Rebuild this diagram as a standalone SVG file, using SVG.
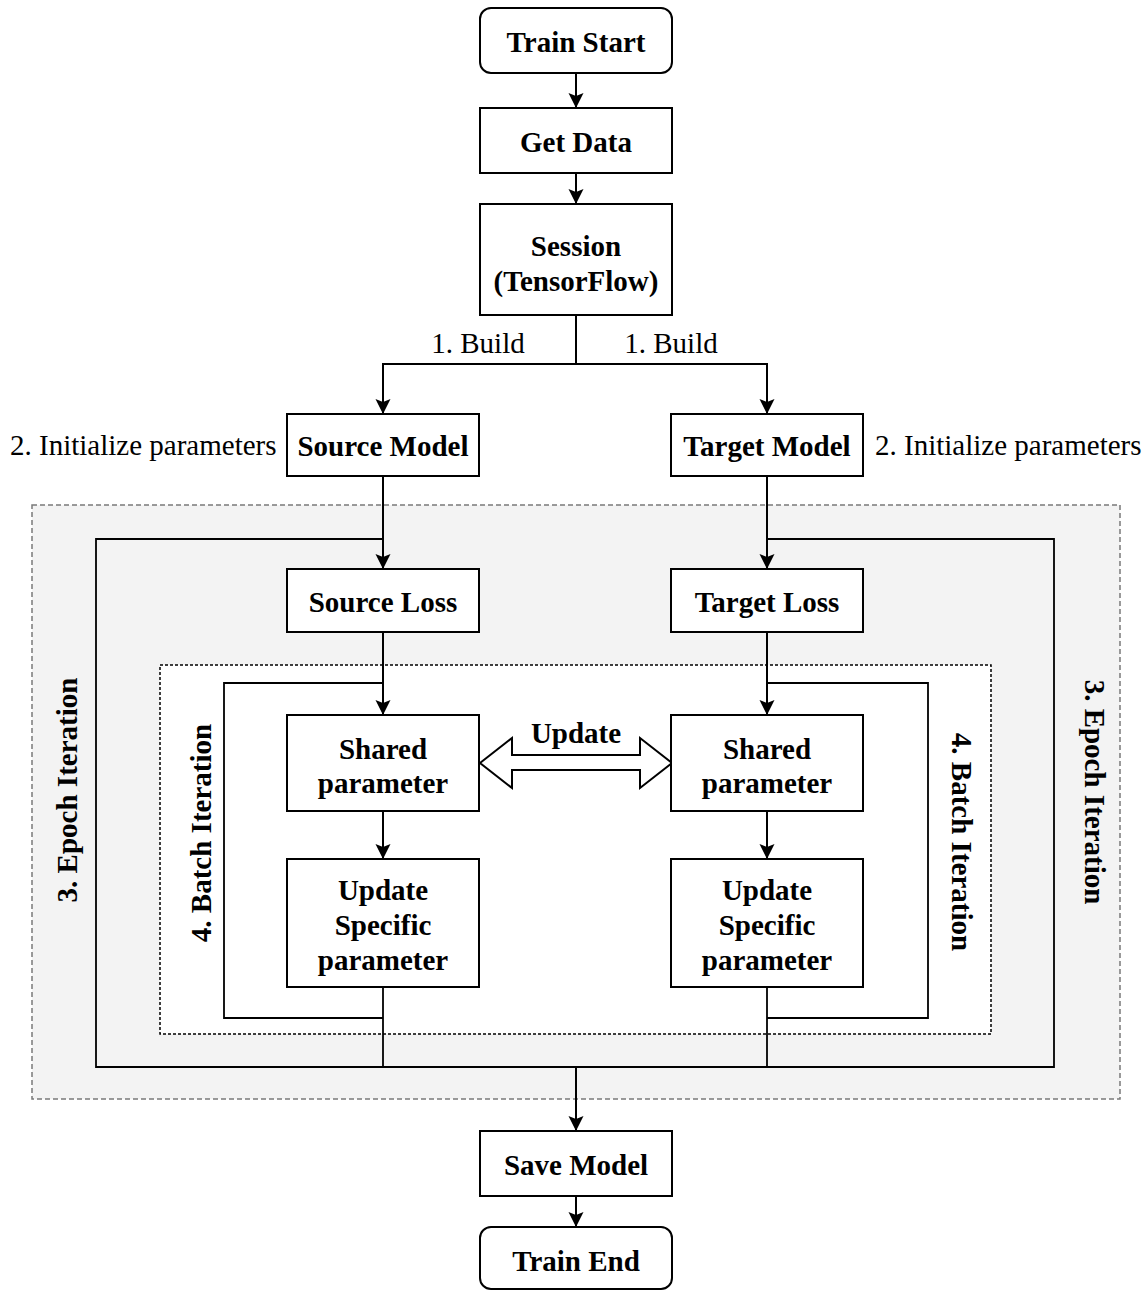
<svg xmlns="http://www.w3.org/2000/svg" width="1145" height="1291" viewBox="0 0 1145 1291">
  <defs>
    <marker id="arrow" markerUnits="userSpaceOnUse" markerWidth="18" markerHeight="18" refX="15" refY="7.5" orient="auto">
      <path d="M0,0 L15,7.5 L0,15 L3,7.5 Z" fill="#000"/>
    </marker>
    <style>
      .box { fill: #fff; stroke: #000; stroke-width: 2; }
      .wire { fill: none; stroke: #000; stroke-width: 2; }
      .loop { fill: none; stroke: #000; stroke-width: 1.8; }
      .b { font-family: "Liberation Serif", "Times New Roman", serif; font-weight: bold; font-size: 29px; text-anchor: middle; fill: #000; }
      .r { font-family: "Liberation Serif", "Times New Roman", serif; font-size: 29px; fill: #000; }
    </style>
  </defs>
  <rect width="1145" height="1291" fill="#fff"/>

  <!-- epoch region (grey, dashed) and batch region (white, dashed) -->
  <rect id="epoch-region" x="32" y="505" width="1088" height="594" fill="#f3f3f3" stroke="#7a7a7a" stroke-width="1.5" stroke-dasharray="5 3"/>
  <rect id="batch-region" x="160" y="665" width="831" height="369" fill="#fff" stroke="#000" stroke-width="1.5" stroke-dasharray="3 2"/>

  <!-- connectors -->
  <g id="connectors">
    <line class="wire" x1="576" y1="73" x2="576" y2="108" marker-end="url(#arrow)"/>
    <line class="wire" x1="576" y1="173" x2="576" y2="204" marker-end="url(#arrow)"/>
    <line class="wire" x1="576" y1="315" x2="576" y2="364"/>
    <path class="wire" d="M576,364 H383 V414" marker-end="url(#arrow)"/>
    <path class="wire" d="M576,364 H767 V414" marker-end="url(#arrow)"/>
    <line class="wire" x1="383" y1="476" x2="383" y2="569" marker-end="url(#arrow)"/>
    <line class="wire" x1="767" y1="476" x2="767" y2="569" marker-end="url(#arrow)"/>
    <!-- epoch loop -->
    <path class="loop" d="M383,539 H96 V1067 H1054 V539 H767"/>
    <line class="wire" x1="383" y1="632" x2="383" y2="715" marker-end="url(#arrow)"/>
    <line class="wire" x1="767" y1="632" x2="767" y2="715" marker-end="url(#arrow)"/>
    <!-- batch loops -->
    <path class="loop" d="M383,683 H224 V1018 H383"/>
    <path class="loop" d="M767,683 H928 V1018 H767"/>
    <line class="wire" x1="383" y1="811" x2="383" y2="859" marker-end="url(#arrow)"/>
    <line class="wire" x1="767" y1="811" x2="767" y2="859" marker-end="url(#arrow)"/>
    <line class="loop" x1="383" y1="987" x2="383" y2="1067"/>
    <line class="loop" x1="767" y1="987" x2="767" y2="1067"/>
    <line class="wire" x1="576" y1="1067" x2="576" y2="1131" marker-end="url(#arrow)"/>
    <line class="wire" x1="576" y1="1196" x2="576" y2="1227" marker-end="url(#arrow)"/>
    <!-- shared-parameter exchange -->
    <polygon id="update-arrow" points="480,763 512,738 512,755 640,755 640,738 672,763 640,788 640,770 512,770 512,788" fill="#fff" stroke="#000" stroke-width="2" stroke-linejoin="miter"/>
    <text class="b" x="576" y="743">Update</text>
  </g>

  <!-- edge labels -->
  <text class="r" x="478" y="353" text-anchor="middle">1. Build</text>
  <text class="r" x="671" y="353" text-anchor="middle">1. Build</text>
  <text class="r" x="10" y="455">2. Initialize parameters</text>
  <text class="r" x="875" y="455">2. Initialize parameters</text>

  <!-- loop labels -->
  <text class="b" transform="translate(77,790) rotate(-90)">3. Epoch Iteration</text>
  <text class="b" transform="translate(1085,792) rotate(90)">3. Epoch Iteration</text>
  <text class="b" transform="translate(211,833) rotate(-90)">4. Batch Iteration</text>
  <text class="b" transform="translate(952,842) rotate(90)">4. Batch Iteration</text>

  <!-- nodes -->
  <g id="train-start">
    <rect class="box" x="480" y="8" width="192" height="65" rx="11"/>
    <text class="b" x="576" y="52">Train Start</text>
  </g>
  <g id="get-data">
    <rect class="box" x="480" y="108" width="192" height="65"/>
    <text class="b" x="576" y="152">Get Data</text>
  </g>
  <g id="session">
    <rect class="box" x="480" y="204" width="192" height="111"/>
    <text class="b" x="576" y="256">Session</text>
    <text class="b" x="576" y="291">(TensorFlow)</text>
  </g>
  <g id="source-model">
    <rect class="box" x="287" y="414" width="192" height="62"/>
    <text class="b" x="383" y="456">Source Model</text>
  </g>
  <g id="target-model">
    <rect class="box" x="671" y="414" width="192" height="62"/>
    <text class="b" x="767" y="456">Target Model</text>
  </g>
  <g id="source-loss">
    <rect class="box" x="287" y="569" width="192" height="63"/>
    <text class="b" x="383" y="612">Source Loss</text>
  </g>
  <g id="target-loss">
    <rect class="box" x="671" y="569" width="192" height="63"/>
    <text class="b" x="767" y="612">Target Loss</text>
  </g>
  <g id="source-shared">
    <rect class="box" x="287" y="715" width="192" height="96"/>
    <text class="b" x="383" y="759">Shared</text>
    <text class="b" x="383" y="793">parameter</text>
  </g>
  <g id="target-shared">
    <rect class="box" x="671" y="715" width="192" height="96"/>
    <text class="b" x="767" y="759">Shared</text>
    <text class="b" x="767" y="793">parameter</text>
  </g>
  <g id="source-specific">
    <rect class="box" x="287" y="859" width="192" height="128"/>
    <text class="b" x="383" y="900">Update</text>
    <text class="b" x="383" y="935">Specific</text>
    <text class="b" x="383" y="970">parameter</text>
  </g>
  <g id="target-specific">
    <rect class="box" x="671" y="859" width="192" height="128"/>
    <text class="b" x="767" y="900">Update</text>
    <text class="b" x="767" y="935">Specific</text>
    <text class="b" x="767" y="970">parameter</text>
  </g>
  <g id="save-model">
    <rect class="box" x="480" y="1131" width="192" height="65"/>
    <text class="b" x="576" y="1175">Save Model</text>
  </g>
  <g id="train-end">
    <rect class="box" x="480" y="1227" width="192" height="62" rx="11"/>
    <text class="b" x="576" y="1271">Train End</text>
  </g>
</svg>
